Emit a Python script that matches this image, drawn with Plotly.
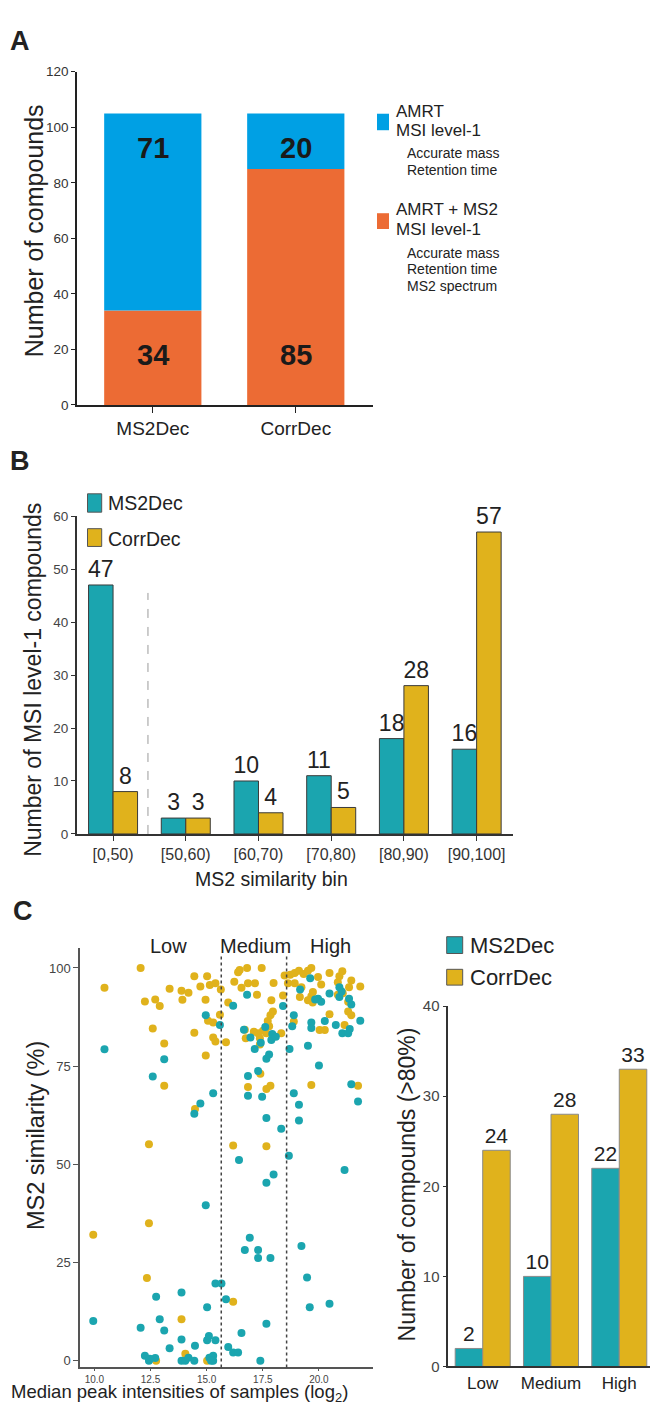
import plotly.graph_objects as go

W, H = 650, 1414

def px(x):
    return x / W

def py(y):
    return 1 - y / H

SANS = "Liberation Sans, Arial, sans-serif"

# ---------------- data ----------------
# Panel A
a_methods = ["MS2Dec", "CorrDec"]
a_amrt_ms2 = [34, 85]
a_amrt = [71, 20]

# Panel B
b_bins = ["[0,50)", "[50,60)", "[60,70)", "[70,80)", "[80,90)", "[90,100]"]
b_ms2dec = [47, 3, 10, 11, 18, 16]
b_corrdec = [8, 3, 4, 5, 28, 57]

# Panel C (bars)
c_levels = ["Low", "Medium", "High"]
c_ms2dec = [2, 10, 22]
c_corrdec = [24, 28, 33]

# Panel C (scatter) – MS2Dec
ms2_x = [10.45, 9.95, 12.60, 13.11, 12.06, 12.25, 12.43, 12.71, 12.75, 12.91,
         13.11, 13.35, 13.88, 13.88, 13.88, 14.05, 14.19, 14.45, 14.48, 14.45,
         14.72, 15.29, 14.96, 15.02, 15.02, 15.10, 15.12, 15.29, 15.39, 15.29,
         15.39, 15.66, 14.96, 15.59, 15.86, 15.96, 16.18, 16.40, 16.55, 16.18,
         16.44, 16.70, 16.92, 16.84, 16.84, 16.80, 17.14, 17.29, 17.29, 17.29,
         17.39, 17.47, 17.66, 17.66, 17.66, 17.66, 17.78, 17.84, 17.88, 17.92,
         17.98, 18.32, 18.40, 18.66, 18.69, 18.81, 18.88, 18.88, 19.11, 19.11,
         19.22, 19.47, 19.59, 19.51, 19.61, 19.66, 19.66, 20.00, 19.96, 20.10,
         20.26, 20.47, 20.47, 20.91, 20.91, 21.04, 21.14, 21.30, 21.34, 21.44,
         21.44, 21.74, 21.84, 16.66, 17.41, 16.95, 18.08, 17.61, 19.16, 21.01,
         19.83, 20.75, 12.47, 15.20, 21.37]
ms2_y = [79.3, 10.1, 72.4, 76.8, 8.4, 1.3, 0.0, 0.7, 16.3, 10.6,
         7.7, 3.2, 17.4, 5.4, 0.0, 0.0, 0.8, 0.0, 3.8, 62.9,
         65.5, 68.1, 39.6, 13.6, 5.2, 6.3, 0.8, 1.3, 5.2, 0.0,
         19.7, 19.7, 88.0, 85.5, 15.7, 3.5, 2.1, 2.1, 7.1, 90.4,
         51.1, 28.2, 31.3, 72.5, 67.5, 93.2, 79.4, 73.8, 28.2, 26.2,
         0.0, 67.2, 61.8, 45.3, 9.4, 76.9, 78.0, 26.2, 81.7, 83.2,
         47.4, 59.1, 90.3, 52.2, 79.4, 85.2, 88.0, 68.1, 65.2, 61.2,
         29.2, 21.2, 13.6, 80.2, 97.4, 86.1, 84.7, 75.2, 92.2, 91.4,
         86.5, 93.5, 14.5, 95.1, 92.6, 83.4, 48.6, 83.4, 92.2, 90.7,
         70.4, 66.0, 86.6, 84.3, 81.0, 82.3, 82.5, 85.0, 94.5, 94.0,
         92.0, 85.5, 0.5, 0.0, 84.5]

# Panel C (scatter) – CorrDec
corr_x = [10.45, 12.06, 12.25, 12.71, 12.91, 12.60, 13.11, 13.11, 12.43, 12.43,
          12.34, 9.95, 13.88, 14.05, 12.75, 15.02, 16.18, 16.18, 17.66, 13.35,
          13.88, 14.19, 13.92, 14.45, 14.72, 15.02, 15.14, 15.39, 14.95, 14.45,
          14.48, 14.96, 15.06, 15.29, 15.29, 15.39, 15.59, 15.63, 15.86, 15.96,
          16.40, 16.47, 16.80, 17.45, 16.55, 16.84, 17.15, 17.24, 16.70, 16.74,
          16.84, 17.29, 17.37, 17.37, 17.66, 17.78, 17.84, 17.95, 17.88, 17.98,
          17.39, 17.66, 17.84, 18.32, 18.40, 18.47, 18.62, 18.72, 18.92, 18.92,
          19.11, 19.32, 19.51, 19.66, 19.15, 19.22, 19.51, 19.66, 19.73, 19.96,
          20.10, 20.03, 20.26, 20.47, 20.47, 20.84, 20.91, 21.04, 20.84, 21.14,
          21.34, 21.44, 21.30, 21.30, 21.44, 21.84, 21.74, 19.66, 18.88, 17.51,
          17.72, 17.10, 16.23, 19.72, 21.06]
corr_y = [95.0, 100.0, 91.5, 92.0, 90.3, 84.6, 80.8, 70.0, 55.1, 35.0,
          21.1, 32.1, 10.6, 1.8, 0.0, 0.0, 15.0, 54.8, 54.6, 94.7,
          94.2, 93.7, 91.9, 97.9, 95.3, 97.9, 95.7, 96.1, 91.9, 83.5,
          64.1, 77.7, 86.6, 86.1, 82.3, 81.3, 88.1, 94.5, 81.1, 91.2,
          98.9, 99.5, 100.0, 100.0, 95.0, 96.1, 96.1, 93.2, 84.3, 82.1,
          69.7, 83.4, 82.1, 80.5, 83.4, 85.2, 88.0, 88.9, 91.8, 96.2,
          73.1, 69.2, 70.0, 83.4, 93.0, 98.1, 96.1, 98.3, 96.1, 98.7,
          99.3, 98.5, 99.3, 100.0, 92.6, 95.1, 91.8, 92.8, 93.9, 97.7,
          95.8, 84.2, 84.2, 98.7, 88.2, 96.4, 97.9, 99.2, 93.2, 85.5,
          95.1, 96.8, 91.4, 88.9, 88.0, 95.3, 70.0, 70.2, 86.4, 84.0,
          86.5, 83.8, 96.5, 91.2, 93.6]

intensity_bounds = [15.65, 18.56]

# ---------------- colours ----------------
A_BLUE = "#00A0E4"
A_ORANGE = "#EC6B34"
TEAL = "#1BA5AF"
GOLD = "#E0B21C"
DARK = "#222222"

fig = go.Figure()

# ---------------- Panel A ----------------
fig.add_trace(go.Bar(x=a_methods, y=a_amrt_ms2, marker=dict(color=A_ORANGE, line=dict(width=0)),
                     width=0.68, offset=-0.34, xaxis="x", yaxis="y", showlegend=False,
                     name="AMRT + MS2"))
fig.add_trace(go.Bar(x=a_methods, y=a_amrt, base=a_amrt_ms2,
                     marker=dict(color=A_BLUE, line=dict(width=0)),
                     width=0.68, offset=-0.34, xaxis="x", yaxis="y", showlegend=False,
                     name="AMRT"))

# ---------------- Panel B ----------------
bar_line = dict(color="#3a3a3a", width=1)
fig.add_trace(go.Bar(x=b_bins, y=b_ms2dec, marker=dict(color=TEAL, line=bar_line),
                     width=0.337, offset=-0.337, xaxis="x2", yaxis="y2",
                     text=b_ms2dec, textposition="outside", cliponaxis=False,
                     constraintext="none",
                     textfont=dict(family=SANS, size=23, color=DARK),
                     showlegend=False, name="MS2Dec"))
fig.add_trace(go.Bar(x=b_bins, y=b_corrdec, marker=dict(color=GOLD, line=bar_line),
                     width=0.337, offset=0.0, xaxis="x2", yaxis="y2",
                     text=b_corrdec, textposition="outside", cliponaxis=False,
                     constraintext="none",
                     textfont=dict(family=SANS, size=23, color=DARK),
                     showlegend=False, name="CorrDec"))

# ---------------- Panel C scatter ----------------
fig.add_trace(go.Scatter(x=corr_x, y=corr_y, mode="markers", xaxis="x3", yaxis="y3",
                         marker=dict(color=GOLD, size=8, line=dict(width=0)),
                         showlegend=False, name="CorrDec", cliponaxis=False))
fig.add_trace(go.Scatter(x=ms2_x, y=ms2_y, mode="markers", xaxis="x3", yaxis="y3",
                         marker=dict(color=TEAL, size=8, line=dict(width=0)),
                         showlegend=False, name="MS2Dec", cliponaxis=False))

# ---------------- Panel C bars ----------------
bar_line_c = dict(color="#8a8a8a", width=1)
fig.add_trace(go.Bar(x=c_levels, y=c_ms2dec, marker=dict(color=TEAL, line=bar_line_c),
                     width=0.403, offset=-0.403, xaxis="x4", yaxis="y4",
                     text=c_ms2dec, textposition="outside", cliponaxis=False,
                     constraintext="none",
                     textfont=dict(family=SANS, size=21, color=DARK),
                     showlegend=False, name="MS2Dec"))
fig.add_trace(go.Bar(x=c_levels, y=c_corrdec, marker=dict(color=GOLD, line=bar_line_c),
                     width=0.403, offset=0.0, xaxis="x4", yaxis="y4",
                     text=c_corrdec, textposition="outside", cliponaxis=False,
                     constraintext="none",
                     textfont=dict(family=SANS, size=21, color=DARK),
                     showlegend=False, name="CorrDec"))

# ---------------- axes ----------------
def axis_common(color, width=1.5, ticks="outside"):
    return dict(showline=True, linecolor=color, linewidth=width, showgrid=False,
                zeroline=False, ticks=ticks, tickcolor=color, tickwidth=1.2)

layout_axes = dict(
    xaxis=dict(**axis_common("#222222"), domain=[px(77), px(373)], anchor="y",
               range=[-0.53, 1.54], ticklen=6,
               tickfont=dict(family=SANS, size=19, color="#222222")),
    yaxis=dict(**axis_common("#222222"), domain=[py(400.7), py(63.5)], anchor="x",
               range=[0, 120], tickvals=[0, 20, 40, 60, 80, 100, 120], ticklen=4,
               tickfont=dict(family=SANS, size=13.5, color="#333333")),
    xaxis2=dict(**axis_common("#333333"), domain=[px(76.7), px(513)], anchor="y2",
                range=[-0.5, 5.5], ticklen=5,
                tickfont=dict(family=SANS, size=16, color="#333333")),
    yaxis2=dict(**axis_common("#333333"), domain=[py(835), py(513.3)], anchor="x2",
                range=[0, 60], tickvals=[0, 10, 20, 30, 40, 50, 60], ticklen=4,
                tickfont=dict(family=SANS, size=13.5, color="#444444")),
    xaxis3=dict(**axis_common("#555555"), domain=[px(80), px(373.3)], anchor="y3",
                range=[9.36, 22.42], tickvals=[10, 12.5, 15, 17.5, 20], tickformat=".1f",
                ticklen=2, tickfont=dict(family=SANS, size=10, color="#444444")),
    yaxis3=dict(**axis_common("#555555"), domain=[py(1375), py(950)], anchor="x3",
                range=[-1.7, 105.2], tickvals=[0, 25, 50, 75, 100], ticklen=5,
                tickfont=dict(family=SANS, size=13, color="#444444")),
    xaxis4=dict(**axis_common("#333333", ticks=""), domain=[px(448.3), 1.0], anchor="y4",
                range=[-0.504, 2.45],
                tickfont=dict(family=SANS, size=17, color="#222222")),
    yaxis4=dict(**axis_common("#333333"), domain=[py(1374), py(1009.3)], anchor="x4",
                range=[0, 40], tickvals=[0, 10, 20, 30, 40], ticklen=4,
                tickfont=dict(family=SANS, size=15, color="#444444")),
)

# ---------------- annotations ----------------
ann = []

def text(x, y, s, size, family=SANS, color=DARK, xanchor="center", angle=0, bold=False,
         yanchor="middle"):
    if bold:
        s = "<b>" + s + "</b>"
    ann.append(dict(x=px(x), y=py(y), xref="paper", yref="paper", text=s, showarrow=False,
                    xanchor=xanchor, yanchor=yanchor, textangle=angle, borderpad=0,
                    font=dict(family=family, size=size, color=color)))

# panel letters
text(20, 32.5, "A", 27, bold=True)
text(20, 457, "B", 27, bold=True)
text(23, 913, "C", 27, bold=True)

# Panel A values inside bars
for i, m in enumerate(a_methods):
    ann.append(dict(x=m, y=18, xref="x", yref="y", text="<b>%d</b>" % a_amrt_ms2[i],
                    showarrow=False, font=dict(family=SANS, size=29, color="#1a1a1a")))
    ann.append(dict(x=m, y=92.5, xref="x", yref="y", text="<b>%d</b>" % a_amrt[i],
                    showarrow=False, font=dict(family=SANS, size=29, color="#1a1a1a")))

# axis titles
text(34, 225, "Number of compounds", 25, angle=-90)
text(33, 679, "Number of MSI level-1 compounds", 23, angle=-90)
text(271.7, 880.7, "MS2 similarity bin", 19.5)
text(36.7, 1140, "MS2 similarity (%)", 23.5, angle=-90)
text(179, 1414, "Median peak intensities of samples (log<sub>2</sub>)", 18.5, yanchor="bottom")
text(406.7, 1190, "Number of compounds (>80%)", 23, angle=-90)

# Panel A legend text
text(395, 103.3, "AMRT", 17, xanchor="left")
text(395, 123.3, "MSI level-1", 17, xanchor="left")
text(406, 145.7, "Accurate mass", 14, xanchor="left")
text(406, 162.7, "Retention time", 14, xanchor="left")
text(395, 203.3, "AMRT + MS2", 17, xanchor="left")
text(395, 223.3, "MSI level-1", 17, xanchor="left")
text(406, 246.7, "Accurate mass", 14, xanchor="left")
text(406, 263.3, "Retention time", 14, xanchor="left")
text(406, 280, "MS2 spectrum", 14, xanchor="left")

# Panel B legend text
text(107, 500, "MS2Dec", 19.5, xanchor="left")
text(107, 536, "CorrDec", 19.5, xanchor="left")

# Panel C legend text
text(469, 948, "MS2Dec", 22, xanchor="left")
text(469, 980, "CorrDec", 22, xanchor="left")

# Panel C region labels
text(168, 948, "Low", 20)
text(255, 948, "Medium", 20)
text(330, 948, "High", 20)

# ---------------- shapes ----------------
shapes = []

def rect(x0, y0, x1, y1, fill, line_color=None):
    shapes.append(dict(type="rect", xref="paper", yref="paper",
                       x0=px(x0), x1=px(x1), y0=py(y1), y1=py(y0),
                       fillcolor=fill,
                       line=dict(color=line_color or fill, width=1 if line_color else 0)))

rect(377, 106, 389, 122.7, A_BLUE)
rect(377, 206.7, 389, 222.7, A_ORANGE)
rect(87.5, 490.7, 101.7, 509.3, TEAL, "#555555")
rect(87.5, 526, 101.7, 544, GOLD, "#555555")
rect(446.7, 939, 462.7, 956, TEAL, "#555555")
rect(446.7, 972, 462.7, 988, GOLD, "#555555")

# dashed separator in panel B
shapes.append(dict(type="line", xref="x2", yref="y2", x0=0.48, x1=0.48, y0=0, y1=45.5,
                   line=dict(color="#9a9a9a", width=1, dash="dash")))
# dotted intensity bounds in panel C
for b in intensity_bounds:
    shapes.append(dict(type="line", xref="x3", yref="y3 domain", x0=b, x1=b, y0=0, y1=0.985,
                       line=dict(color="#444444", width=1.5, dash="dot")))

fig.update_layout(
    width=W, height=H, margin=dict(l=0, r=0, t=0, b=0),
    paper_bgcolor="white", plot_bgcolor="white",
    barmode="group", showlegend=False,
    annotations=ann, shapes=shapes,
    font=dict(family=SANS, color=DARK),
    **layout_axes,
)

fig.write_html("out.html", config={"displayModeBar": False},
               post_script="document.body.style.margin='0';")
